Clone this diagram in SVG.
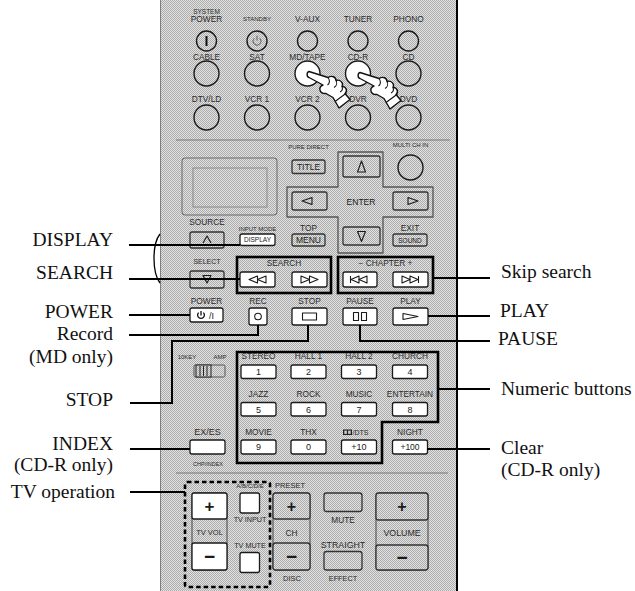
<svg xmlns="http://www.w3.org/2000/svg" width="635" height="591" viewBox="0 0 635 591">
<defs>
  <!-- halftone texture of the remote housing -->
  <pattern id="tex" width="2" height="2" patternUnits="userSpaceOnUse">
    <rect width="2" height="2" fill="#e2e2e2"/>
    <rect width="1" height="1" fill="#acacac"/>
    <rect x="1" y="1" width="1" height="1" fill="#acacac"/>
  </pattern>
  <!-- pointing hand, fingertip at the origin -->
  <g id="hand">
    <path d="M1,-2.5 C-1.5,-2 -1.5,3 1,3.5 L15,11 C10,13 11,20 18,19.5 L25,23.5 L31,34 L42,25.5 L37,19.5 C40,17 38,12 34,12.5 C36,9 32,5 28,6.5 C28,3 24,1 20,3.5 Z" fill="#fff" stroke="#111" stroke-width="1.4" stroke-linejoin="round"/>
    <path d="M27,27.5 L38.5,19 M20,3.5 C22,6 22,9 19.5,11 M28,6.5 C29.5,9 28.5,12 26,13.5 M34,12.5 C35,15 34,17 32,18" fill="none" stroke="#111" stroke-width="1.1"/>
  </g>
</defs>
<style>
  .lbl{font-family:"Liberation Serif","Times New Roman",serif;font-size:19.5px;fill:#111}
  .end{text-anchor:end}
  .t{font-family:"Liberation Sans",Arial,sans-serif;font-size:8.3px;fill:#2b2b2b;text-anchor:middle}
  .xs{font-size:6px}
  .b{font-family:"Liberation Sans",Arial,sans-serif;fill:#1a1a1a;text-anchor:middle}
  .w{fill:#fff;stroke:#1a1a1a;stroke-width:1.3}
  .g{fill:url(#tex);stroke:#333;stroke-width:1.3}
  .c{fill:url(#tex);stroke:#1a1a1a;stroke-width:1.4}
  .cw{fill:#fff;stroke:#1a1a1a;stroke-width:1.4}
  .ic{fill:none;stroke:#1a1a1a;stroke-width:1.1;stroke-linejoin:round}
  .frame{fill:none;stroke:#000;stroke-width:2.6}
  .lead{fill:none;stroke:#000;stroke-width:2}
  .sep{stroke:#666;stroke-width:0.8}
</style>

<rect width="635" height="591" fill="#fff"/>

<!-- remote housing -->
<g id="remote-body">
  <rect x="160" y="0" width="297" height="591" fill="url(#tex)"/>
  <line x1="160.5" y1="0" x2="160.5" y2="591" stroke="#808080"/>
  <line x1="457" y1="0" x2="457" y2="591" stroke="#000" stroke-width="2"/>
  <path d="M160,234 C152,244 152,272 160,283" fill="none" stroke="#000" stroke-width="1.3"/>
  <line class="sep" x1="176" y1="140" x2="450" y2="140"/>
  <line class="sep" x1="176" y1="473" x2="448" y2="473"/>
</g>

<!-- input selector buttons -->
<g id="btn-system-power"><text class="t" style="font-size:6.5px" x="206.5" y="13.5">SYSTEM</text><text class="t" x="206.5" y="21.5">POWER</text><circle class="c" cx="206.5" cy="41" r="10"/><line x1="206.5" y1="36" x2="206.5" y2="46" stroke="#111" stroke-width="2"/></g>
<g id="btn-standby"><text class="t xs" x="257" y="21">STANDBY</text><circle class="c" cx="257" cy="41" r="10"/><path d="M254.2,38.3 A4,4 0 1 0 259.8,38.3 M257,35.8 V40.5" fill="none" stroke="#555" stroke-width="0.9"/></g>
<g id="btn-vaux"><text class="t" x="307.5" y="21.5">V-AUX</text><circle class="c" cx="307.5" cy="41" r="10"/></g>
<g id="btn-tuner"><text class="t" x="358" y="21.5">TUNER</text><circle class="c" cx="358" cy="41" r="10"/></g>
<g id="btn-phono"><text class="t" x="408.5" y="21.5">PHONO</text><circle class="c" cx="408.5" cy="41" r="10"/></g>

<g id="btn-cable"><text class="t" x="206.5" y="60">CABLE</text><circle class="c" cx="206.5" cy="73.5" r="12.5"/></g>
<g id="btn-sat"><text class="t" x="257" y="60">SAT</text><circle class="c" cx="257" cy="73.5" r="12.5"/></g>
<g id="btn-mdtape"><text class="t" x="307.5" y="60">MD/TAPE</text><circle class="cw" cx="307.5" cy="73.5" r="12.5"/></g>
<g id="btn-cdr"><text class="t" x="358" y="60">CD-R</text><circle class="cw" cx="358" cy="73.5" r="12.5"/></g>
<g id="btn-cd"><text class="t" x="408.5" y="60">CD</text><circle class="c" cx="408.5" cy="73.5" r="12.5"/></g>

<g id="btn-dtvld"><text class="t" x="206.5" y="101.5">DTV/LD</text><circle class="c" cx="206.5" cy="117.5" r="12.5"/></g>
<g id="btn-vcr1"><text class="t" x="257" y="101.5">VCR 1</text><circle class="c" cx="257" cy="117.5" r="12.5"/></g>
<g id="btn-vcr2"><text class="t" x="307.5" y="101.5">VCR 2</text><circle class="c" cx="307.5" cy="117.5" r="12.5"/></g>
<g id="btn-dvr"><text class="t" x="358" y="101.5">DVR</text><circle class="c" cx="358" cy="117.5" r="12.5"/></g>
<g id="btn-dvd"><text class="t" x="408.5" y="101.5">DVD</text><circle class="c" cx="408.5" cy="117.5" r="12.5"/></g>

<!-- pressing hands -->
<g id="hands">
  <use href="#hand" transform="translate(308,74)"/>
  <use href="#hand" transform="translate(359,75)"/>
</g>

<!-- display window -->
<g id="lcd">
  <rect x="182" y="158" width="95" height="57" rx="3" fill="url(#tex)" stroke="#6a6a6a" stroke-width="1"/>
  <rect x="193" y="168" width="74" height="39" fill="none" stroke="#8a8a8a" stroke-width="1"/>
</g>

<g id="btn-title"><text class="t xs" x="308.5" y="149">PURE DIRECT</text><rect class="g" x="292" y="160" width="33" height="13.5" rx="2"/><text class="b" style="font-size:8.5px" x="308.5" y="170">TITLE</text></g>

<g id="cursor-pad">
  <path d="M338,152 H383 V187 H433 V217 H383 V253 H338 V217 H287 V187 H338 Z" fill="none" stroke="#555" stroke-width="1.3" stroke-linejoin="round"/>
  <rect class="g" x="343" y="156" width="37" height="21" rx="2"/><polygon class="ic" points="361.5,161 357.5,172 365.5,172"/>
  <rect class="g" x="292" y="192" width="35" height="18" rx="2"/><polygon class="ic" points="302,201 312,197.5 312,204.5"/>
  <rect class="g" x="393" y="192" width="35" height="18" rx="2"/><polygon class="ic" points="418,201 408,197.5 408,204.5"/>
  <rect class="g" x="343" y="227" width="37" height="18" rx="2"/><polygon class="ic" points="357.5,231.5 365.5,231.5 361.5,241.5"/>
  <text class="b" style="font-size:8.5px" x="361" y="205">ENTER</text>
</g>

<g id="btn-multi-ch-in"><text class="t xs" x="410.5" y="147">MULTI CH IN</text><circle class="c" cx="410.5" cy="167.5" r="12.5"/></g>

<g id="btn-source"><text class="t" x="207" y="225">SOURCE</text><rect class="g" x="190" y="232" width="34" height="16" rx="2"/><polyline class="ic" points="203,243 207,236 211,243"/></g>
<g id="btn-display"><text class="t xs" x="257.5" y="231">INPUT MODE</text><rect class="w" x="240" y="234" width="35" height="11.5" rx="2"/><text class="b" style="font-size:6.5px" x="257.5" y="242.3">DISPLAY</text></g>
<g id="btn-menu"><text class="t" x="308.5" y="231">TOP</text><rect class="g" x="292" y="234" width="33" height="12" rx="2"/><text class="b" style="font-size:8.5px" x="308.5" y="243.3">MENU</text></g>
<g id="btn-sound"><text class="t" x="410" y="231">EXIT</text><rect class="g" x="393" y="234" width="34" height="12" rx="2"/><text class="b" style="font-size:6.5px" x="410" y="242.5">SOUND</text></g>

<g id="btn-select"><text class="t" style="font-size:7px" x="207" y="264">SELECT</text><rect class="g" x="190" y="271" width="34" height="17" rx="2"/><polygon class="ic" points="203,275.5 211,275.5 207,283"/></g>

<g id="search-keys">
  <rect class="frame" x="237" y="257" width="94" height="36"/>
  <text class="t" x="284" y="266">SEARCH</text>
  <rect class="w" x="240" y="272" width="35" height="15" rx="2"/>
  <polygon class="ic" points="249,279.5 257.5,276 257.5,283"/><polygon class="ic" points="257.5,279.5 266,276 266,283"/>
  <rect class="w" x="292" y="272" width="35" height="15" rx="2"/>
  <polygon class="ic" points="301,276 309.5,279.5 301,283"/><polygon class="ic" points="309.5,276 318,279.5 309.5,283"/>
</g>

<g id="chapter-keys">
  <rect class="frame" x="338" y="257" width="95" height="36"/>
  <text class="t" x="385.5" y="266">−  CHAPTER  +</text>
  <rect class="w" x="343" y="272" width="34" height="15" rx="2"/>
  <path class="ic" d="M350.5,276 V283"/><polygon class="ic" points="351,279.5 359,276 359,283"/><polygon class="ic" points="359,279.5 367,276 367,283"/>
  <rect class="w" x="393" y="272" width="35" height="15" rx="2"/>
  <polygon class="ic" points="402,276 410,279.5 402,283"/><polygon class="ic" points="410,276 418,279.5 410,283"/><path class="ic" d="M418.5,276 V283"/>
</g>

<g id="btn-power"><text class="t" x="206.5" y="304">POWER</text><rect class="w" x="190" y="308" width="33" height="14" rx="2"/><path d="M198.6,312.6 A3.4,3.4 0 1 0 203.4,312.6 M201,311 V315.5" fill="none" stroke="#111" stroke-width="1.3"/><text class="b" style="font-size:9px" x="211.5" y="318.5">/I</text></g>
<g id="btn-rec"><text class="t" x="258" y="304">REC</text><rect class="w" x="249" y="308" width="18" height="17" rx="2"/><circle class="ic" cx="258" cy="316.5" r="3.3"/></g>
<g id="btn-stop"><text class="t" x="309.5" y="304">STOP</text><rect class="w" x="292" y="308" width="35" height="17" rx="2"/><rect class="ic" x="302.5" y="313" width="14" height="7"/></g>
<g id="btn-pause"><text class="t" x="360" y="304">PAUSE</text><rect class="w" x="343" y="308" width="34" height="17" rx="2"/><rect class="ic" x="353.5" y="312.5" width="5" height="8"/><rect class="ic" x="361.5" y="312.5" width="5" height="8"/></g>
<g id="btn-play"><text class="t" x="410.5" y="304">PLAY</text><rect class="w" x="393" y="308" width="35" height="17" rx="2"/><polygon class="ic" points="403,313.5 418,316.5 403,319.5"/></g>

<g id="sw-10key"><text class="t xs" x="187" y="359">10KEY</text><text class="t xs" x="220" y="359">AMP</text>
  <rect x="194" y="365" width="31" height="12" rx="1.5" fill="url(#tex)" stroke="#555" stroke-width="1"/>
  <rect x="196" y="365" width="15" height="12" fill="url(#tex)" stroke="#222" stroke-width="1"/>
  <path d="M200,366 V376 M203.5,366 V376 M207,366 V376" stroke="#222" stroke-width="1"/>
</g>

<g id="numeric-keys">
  <path class="frame" d="M237,352 H438 V422 H382 V463 H237 Z"/>
  <text class="t" x="258.5" y="359">STEREO</text><text class="t" x="308.5" y="359">HALL 1</text><text class="t" x="359" y="359">HALL 2</text><text class="t" x="410" y="359">CHURCH</text>
  <rect class="w" x="241" y="365" width="35" height="13.5" rx="2"/><rect class="w" x="291" y="365" width="35" height="13.5" rx="2"/><rect class="w" x="341.5" y="365" width="35" height="13.5" rx="2"/><rect class="w" x="392.5" y="365" width="35" height="13.5" rx="2"/>
  <text class="b" style="font-size:9px" x="258.5" y="375">1</text><text class="b" style="font-size:9px" x="308.5" y="375">2</text><text class="b" style="font-size:9px" x="359" y="375">3</text><text class="b" style="font-size:9px" x="410" y="375">4</text>
  <text class="t" x="258.5" y="397">JAZZ</text><text class="t" x="308.5" y="397">ROCK</text><text class="t" x="359" y="397">MUSIC</text><text class="t" x="410" y="397">ENTERTAIN</text>
  <rect class="w" x="241" y="402.5" width="35" height="13.5" rx="2"/><rect class="w" x="291" y="402.5" width="35" height="13.5" rx="2"/><rect class="w" x="341.5" y="402.5" width="35" height="13.5" rx="2"/><rect class="w" x="392.5" y="402.5" width="35" height="13.5" rx="2"/>
  <text class="b" style="font-size:9px" x="258.5" y="412.5">5</text><text class="b" style="font-size:9px" x="308.5" y="412.5">6</text><text class="b" style="font-size:9px" x="359" y="412.5">7</text><text class="b" style="font-size:9px" x="410" y="412.5">8</text>
  <text class="t" x="258.5" y="435">MOVIE</text><text class="t" x="308.5" y="435">THX</text>
  <rect x="343" y="429.5" width="9" height="5.5" fill="#222"/><rect x="344.3" y="430.6" width="2.6" height="3.3" fill="#ccc"/><rect x="348.1" y="430.6" width="2.6" height="3.3" fill="#ccc"/>
  <text class="t" style="text-anchor:start;font-size:7px" x="352.5" y="435">/DTS</text>
  <rect class="w" x="241" y="440" width="35" height="14" rx="2"/><rect class="w" x="291" y="440" width="35" height="14" rx="2"/><rect class="w" x="341.5" y="440" width="35" height="14" rx="2"/>
  <text class="b" style="font-size:9px" x="258.5" y="450.3">9</text><text class="b" style="font-size:9px" x="308.5" y="450.3">0</text><text class="b" style="font-size:9px" x="359" y="450.3">+10</text>
</g>

<g id="btn-night"><text class="t" x="410" y="435">NIGHT</text><rect class="w" x="392.5" y="440" width="35" height="14" rx="2"/><text class="b" style="font-size:8.5px" x="410" y="450.2">+100</text></g>
<g id="btn-exes"><text class="t" style="font-size:9px" x="207.5" y="435">EX/ES</text><rect class="w" x="190" y="440" width="35" height="14" rx="2"/><text class="t" style="font-size:5.5px" x="208" y="466">CHP/INDEX</text></g>

<!-- TV and volume controls -->
<g id="tv-controls">
  <rect x="185" y="482" width="85" height="105" rx="2" fill="none" stroke="#000" stroke-width="2.6" stroke-dasharray="4.5,3"/>
  <rect x="192" y="493" width="35" height="77" rx="2" fill="url(#tex)" stroke="#444" stroke-width="1"/>
  <rect class="w" x="192" y="493" width="35" height="26" rx="2"/><text class="b" style="font-size:17px;font-weight:bold" x="209.5" y="512">+</text>
  <text class="t" style="font-size:7.5px" x="209.5" y="535">TV VOL</text>
  <rect class="w" x="192" y="543" width="35" height="27" rx="2"/><text class="b" style="font-size:19px;font-weight:bold" x="209.5" y="563">−</text>
  <text class="t xs" x="250" y="488">A/B/C/D/E</text>
  <rect class="w" x="240" y="493" width="19.5" height="20" rx="2"/>
  <text class="t" style="font-size:7.2px" x="250" y="521.5">TV INPUT</text>
  <text class="t" style="font-size:7.2px" x="250" y="547.5">TV MUTE</text>
  <rect class="w" x="240" y="552.5" width="19.5" height="20" rx="2"/>
</g>

<g id="ch-rocker">
  <text class="t" style="font-size:7.5px" x="290" y="488">PRESET</text>
  <rect x="273" y="493" width="37" height="77" rx="2.5" fill="url(#tex)" stroke="#444" stroke-width="1"/>
  <rect class="g" x="273" y="493" width="37" height="26" rx="2.5"/><text class="b" style="font-size:16px;font-weight:bold" x="291.5" y="511.5">+</text>
  <text class="t" x="291.5" y="535.5">CH</text>
  <rect class="g" x="273" y="543" width="37" height="27" rx="2.5"/><text class="b" style="font-size:19px;font-weight:bold" x="291.5" y="562.5">−</text>
  <text class="t" style="font-size:7.5px" x="292" y="581">DISC</text>
</g>

<g id="btn-mute"><rect class="g" x="324" y="493" width="38" height="18.5" rx="2.5"/><text class="t" x="343" y="522.5">MUTE</text></g>
<g id="btn-straight"><text class="t" style="font-size:8.8px" x="343" y="548">STRAIGHT</text><rect class="g" x="324" y="551.5" width="38" height="18.5" rx="2.5"/><text class="t" style="font-size:7.3px" x="343" y="581">EFFECT</text></g>

<g id="volume-rocker">
  <rect x="376" y="493" width="52" height="77" rx="2.5" fill="url(#tex)" stroke="#444" stroke-width="1"/>
  <rect class="g" x="376" y="493" width="52" height="27" rx="2.5"/><text class="b" style="font-size:16px;font-weight:bold" x="402" y="512">+</text>
  <text class="t" style="font-size:8.8px" x="402" y="536">VOLUME</text>
  <rect class="g" x="376" y="545" width="52" height="25" rx="2.5"/><text class="b" style="font-size:19px;font-weight:bold" x="402" y="563.5">−</text>
</g>

<!-- leader lines -->
<g id="connectors">
  <path class="lead" d="M129,245 H240"/>
  <path class="lead" d="M129,279 H240"/>
  <path class="lead" d="M129,315 H190"/>
  <path class="lead" d="M129,335 H258 V325"/>
  <path class="lead" d="M130,403 H172 V341 H308 V325"/>
  <path class="lead" d="M360,325 V341 H490"/>
  <path class="lead" d="M428,316 H490"/>
  <path class="lead" d="M433,278 H490"/>
  <path class="lead" d="M438,389 H490"/>
  <path class="lead" d="M427,449 H490"/>
  <path class="lead" d="M130,449 H190"/>
  <path class="lead" d="M130,492 H185"/>
</g>

<!-- callout labels -->
<g id="labels-left">
  <text class="lbl end" x="113" y="246">DISPLAY</text>
  <text class="lbl end" x="113" y="279">SEARCH</text>
  <text class="lbl end" x="113" y="318">POWER</text>
  <text class="lbl end" x="113" y="340">Record</text>
  <text class="lbl end" x="113" y="363">(MD only)</text>
  <text class="lbl end" x="113" y="406">STOP</text>
  <text class="lbl end" x="113" y="450">INDEX</text>
  <text class="lbl end" x="113" y="471">(CD-R only)</text>
  <text class="lbl end" x="115" y="498">TV operation</text>
</g>
<g id="labels-right">
  <text class="lbl" x="501" y="278">Skip search</text>
  <text class="lbl" x="500" y="317">PLAY</text>
  <text class="lbl" x="498" y="345">PAUSE</text>
  <text class="lbl" x="501" y="395">Numeric buttons</text>
  <text class="lbl" x="501" y="454">Clear</text>
  <text class="lbl" x="501" y="476">(CD-R only)</text>
</g>
</svg>
